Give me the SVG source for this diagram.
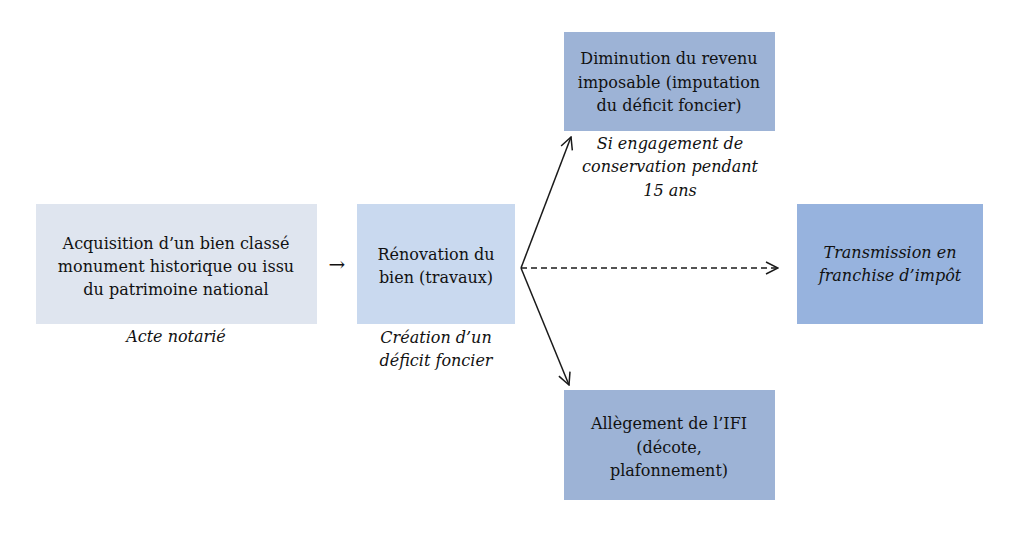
<svg xmlns="http://www.w3.org/2000/svg" width="1024" height="540" viewBox="0 0 1024 540">
<style>
.t{font-family:"DejaVu Serif","Liberation Serif",serif;font-size:16px;fill:#111111;text-anchor:middle}
.i{font-style:italic}
.c{stroke:#1a1a1a;stroke-width:1.5;fill:none}
</style>
<defs>
<marker id="a" viewBox="0 0 14 14" refX="13" refY="7" markerWidth="14" markerHeight="14" markerUnits="userSpaceOnUse" orient="auto">
<path d="M1,1 L13,7 L1,13" fill="none" stroke="#1a1a1a" stroke-width="1.5"/>
</marker>
</defs>
<rect width="1024" height="540" fill="#ffffff"/>
<g id="n1">
<rect x="36" y="204" width="281" height="120" fill="#dfe5ef"/>
<text class="t" x="176" y="249">Acquisition d’un bien classé</text>
<text class="t" x="176" y="272">monument historique ou issu</text>
<text class="t" x="176" y="295">du patrimoine national</text>
<text class="t i" x="176" y="342">Acte notarié</text>
</g>
<g id="n2">
<rect x="357" y="204" width="158" height="120" fill="#c9d9ef"/>
<text class="t" x="436" y="260">Rénovation du</text>
<text class="t" x="436" y="283">bien (travaux)</text>
<text class="t i" x="436" y="343">Création d’un</text>
<text class="t i" x="436" y="366">déficit foncier</text>
</g>
<g id="n3">
<rect x="564" y="32" width="211" height="99" fill="#9db3d6"/>
<text class="t" x="669" y="64">Diminution du revenu</text>
<text class="t" x="669" y="88">imposable (imputation</text>
<text class="t" x="669" y="111">du déficit foncier)</text>
<text class="t i" x="670" y="149">Si engagement de</text>
<text class="t i" x="670" y="172">conservation pendant</text>
<text class="t i" x="670" y="196">15 ans</text>
</g>
<g id="n4">
<rect x="797" y="204" width="186" height="120" fill="#97b3de"/>
<text class="t i" x="890" y="258">Transmission en</text>
<text class="t i" x="890" y="281">franchise d’impôt</text>
</g>
<g id="n5">
<rect x="564" y="390" width="211" height="110" fill="#9db3d6"/>
<text class="t" x="669" y="429">Allègement de l’IFI</text>
<text class="t" x="669" y="453">(décote,</text>
<text class="t" x="669" y="476">plafonnement)</text>
</g>
<g id="connectors">
<text class="t" x="337" y="271" style="font-size:20px">→</text>
<line class="c" x1="521" y1="268" x2="571" y2="137" marker-end="url(#a)"/>
<line class="c" x1="521" y1="268" x2="569" y2="385" marker-end="url(#a)"/>
<line class="c" x1="521" y1="268" x2="778" y2="268" stroke-dasharray="6,4" marker-end="url(#a)"/>
</g>
</svg>
